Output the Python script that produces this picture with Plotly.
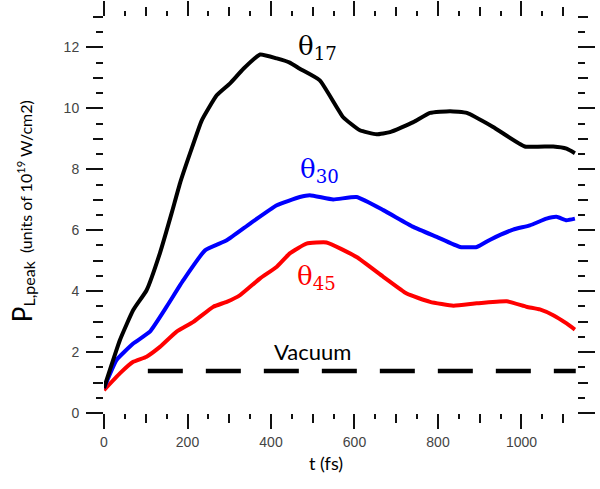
import plotly.graph_objects as go

# ---- data ----
t_17 = [0, 38, 70, 102, 134, 162, 182, 206, 234, 270, 302, 334, 374, 414, 445, 469,
        517, 573, 613, 653, 685, 741, 781, 829, 869, 932, 1008, 1076, 1108, 1128]
p_17 = [0.82, 2.39, 3.38, 4.03, 5.25, 6.56, 7.54, 8.52, 9.6, 10.43, 10.82, 11.3, 11.77, 11.64, 11.5, 11.3,
        10.92, 9.71, 9.28, 9.15, 9.22, 9.55, 9.85, 9.91, 9.85, 9.39, 8.75, 8.75, 8.68, 8.53]

t_30 = [0, 30, 70, 110, 150, 190, 242, 294, 350, 414, 469, 493, 549, 605, 669, 741,
        797, 853, 893, 925, 980, 1020, 1060, 1084, 1108, 1128]
p_30 = [0.82, 1.74, 2.28, 2.67, 3.49, 4.36, 5.34, 5.67, 6.22, 6.82, 7.09, 7.15, 7.01, 7.09, 6.66, 6.11,
        5.78, 5.45, 5.45, 5.69, 6.02, 6.16, 6.38, 6.44, 6.33, 6.38]

t_45 = [0, 38, 70, 102, 134, 174, 214, 262, 294, 326, 374, 414, 445, 485, 533, 605,
        669, 725, 781, 837, 893, 965, 1012, 1044, 1076, 1108, 1128]
p_45 = [0.75, 1.3, 1.68, 1.85, 2.17, 2.67, 2.99, 3.49, 3.65, 3.87, 4.42, 4.8, 5.24, 5.56, 5.6, 5.12,
        4.47, 3.92, 3.65, 3.52, 3.6, 3.67, 3.49, 3.4, 3.21, 2.94, 2.74]

t_vac = [105, 1130]
p_vac = [1.38, 1.38]

x_major = [0, 200, 400, 600, 800, 1000]
x_mid = [100, 300, 500, 700, 900, 1100]
y_major = [0, 2, 4, 6, 8, 10, 12]
y_mid = [1, 3, 5, 7, 9, 11, 13]

X_RANGE = [0, 1133]
Y_RANGE = [0, 13]

fig = go.Figure()
line_shape = dict(shape="spline", smoothing=0.4)
fig.add_trace(go.Scatter(x=t_vac, y=p_vac, mode="lines",
                         line=dict(color="black", width=4.5, dash="35px,23px")))
fig.add_trace(go.Scatter(x=t_45, y=p_45, mode="lines", line=dict(color="#ff0000", width=4, **line_shape)))
fig.add_trace(go.Scatter(x=t_30, y=p_30, mode="lines", line=dict(color="#0000ff", width=4, **line_shape)))
fig.add_trace(go.Scatter(x=t_17, y=p_17, mode="lines", line=dict(color="#000000", width=4, **line_shape)))
# helper trace for the secondary (mid-level tick) axes
fig.add_trace(go.Scatter(x=[None], y=[None], xaxis="x2", yaxis="y2", showlegend=False, hoverinfo="skip"))

tickfont = dict(family="Liberation Sans", size=14, color="#444444")

fig.update_layout(
    width=600, height=489,
    margin=dict(l=104, r=23, t=17, b=76),
    paper_bgcolor="white", plot_bgcolor="white",
    showlegend=False,
    xaxis=dict(range=X_RANGE, showgrid=False, zeroline=False, showline=False,
               tickmode="array", tickvals=x_major, ticks="outside", ticklen=15, tickwidth=1.5,
               tickcolor="#111", mirror="ticks", tickfont=tickfont, ticklabelstandoff=1,
               minor=dict(dtick=50, tick0=0, ticks="outside", ticklen=5, tickwidth=1.5, tickcolor="#111")),
    yaxis=dict(range=Y_RANGE, showgrid=False, zeroline=False, showline=False,
               tickmode="array", tickvals=y_major, ticks="outside", ticklen=17, tickwidth=1.5,
               tickcolor="#111", mirror="ticks", tickfont=tickfont, ticklabelstandoff=4,
               minor=dict(dtick=0.5, tick0=0, ticks="outside", ticklen=7, tickwidth=1.5, tickcolor="#111")),
    xaxis2=dict(range=X_RANGE, overlaying="x", showgrid=False, zeroline=False, showline=False,
                tickmode="array", tickvals=x_mid, ticks="outside", ticklen=9, tickwidth=1.5,
                tickcolor="#111", mirror="ticks", showticklabels=False),
    yaxis2=dict(range=Y_RANGE, overlaying="y", showgrid=False, zeroline=False, showline=False,
                tickmode="array", tickvals=y_mid, ticks="outside", ticklen=10, tickwidth=1.5,
                tickcolor="#111", mirror="ticks", showticklabels=False),
)

serif = "DejaVu Serif"
fig.add_annotation(x=512, y=12.0, text="θ<sub>17</sub>", showarrow=False,
                   font=dict(family=serif, size=26, color="black"))
fig.add_annotation(x=515, y=7.97, text="θ<sub>30</sub>", showarrow=False,
                   font=dict(family=serif, size=26, color="#0000ff"))
fig.add_annotation(x=508, y=4.46, text="θ<sub>45</sub>", showarrow=False,
                   font=dict(family=serif, size=26, color="#ff0000"))
fig.add_annotation(x=500, y=2.03, text="Vacuum", showarrow=False,
                   font=dict(family="Lato", size=22, color="black"))

fig.add_annotation(xref="paper", yref="paper", x=0.469, y=-0.126, xanchor="center", yanchor="middle",
                   text="t (fs)", showarrow=False,
                   font=dict(family="Lato", size=18, color="black"))
fig.add_annotation(xref="paper", yref="paper", x=-0.173, y=0.51, xanchor="center", yanchor="middle",
                   textangle=-90, showarrow=False,
                   text='<span style="font-size:26px">P</span><sub><span style="font-size:16px">L,peak</span></sub>'
                        '  (units of 10<sup>19</sup> W/cm2)',
                   font=dict(family="Lato", size=16, color="black"))

fig.write_html("out.html")
